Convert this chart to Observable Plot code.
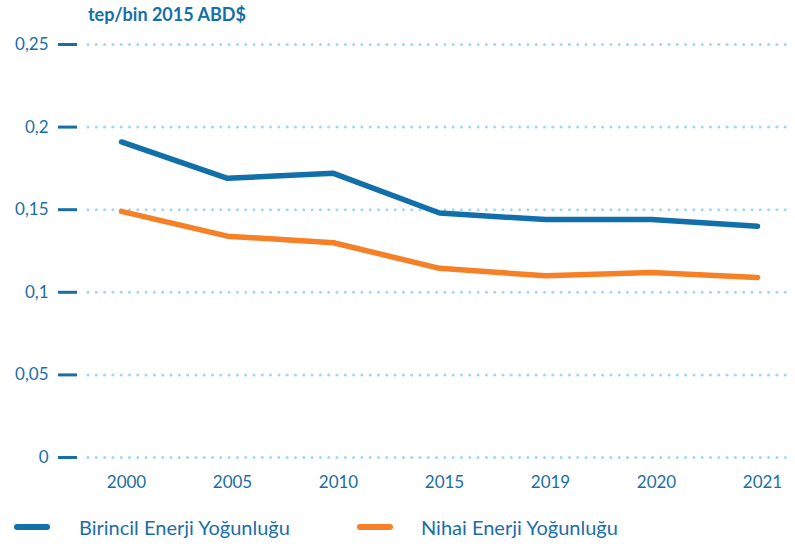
<!DOCTYPE html>
<html>
<head>
<meta charset="utf-8">
<script src="https://cdn.jsdelivr.net/npm/d3@7"></script>
<script src="https://cdn.jsdelivr.net/npm/@observablehq/plot@0.6"></script>
<style>
  body { margin: 0; background: #fff; font-family: Lato, "Open Sans", sans-serif; }
  #wrap { position: relative; width: 795px; height: 550px; }
  #title { position: absolute; left: 88px; top: 3px; font-size: 18px; font-weight: 700; color: #1570a6; }
  .leg { position: absolute; top: 515px; font-size: 20px; color: #1a6ea8; display: flex; align-items: center; }
  .sw { display: inline-block; width: 36px; height: 6px; border-radius: 3px; }
  #chart { position: absolute; left: 0; top: 0; }
</style>
</head>
<body>
<div id="wrap">
  <div id="chart"></div>
  <div id="title">tep/bin 2015 ABD$</div>
  <div class="leg" style="left:14px"><span class="sw" style="background:#1170aa"></span><span style="margin-left:29px">Birincil Enerji Yoğunluğu</span></div>
  <div class="leg" style="left:357px"><span class="sw" style="background:#f58025"></span><span style="margin-left:28px">Nihai Enerji Yoğunluğu</span></div>
</div>
<script>
const years = ["2000", "2005", "2010", "2015", "2019", "2020", "2021"];
const birincil = [0.191, 0.169, 0.172, 0.148, 0.144, 0.144, 0.140];
const nihai = [0.149, 0.134, 0.130, 0.1145, 0.110, 0.112, 0.109];
const yTicks = [0, 0.05, 0.1, 0.15, 0.2, 0.25];
const seriesNames = ["Birincil Enerji Yoğunluğu", "Nihai Enerji Yoğunluğu"];
const colors = ["#1170aa", "#f58025"];

const data = [
  ...years.map((y, i) => ({year: y, value: birincil[i], series: seriesNames[0]})),
  ...years.map((y, i) => ({year: y, value: nihai[i], series: seriesNames[1]}))
];

const textColor = "#1a6ea8";
const fmt = d => String(d).replace(".", ",");

const chart = Plot.plot({
  width: 795,
  height: 500,
  marginTop: 44,
  marginBottom: 43,
  marginLeft: 88,
  marginRight: 5,
  style: { fontFamily: "Lato, 'Open Sans', sans-serif", fontSize: "17px", color: textColor, background: "transparent" },
  x: { type: "point", domain: years, padding: 0, insetLeft: 30, insetRight: 31 },
  y: { domain: [0, 0.25] },
  color: { domain: seriesNames, range: colors },
  marks: [
    Plot.ruleY(yTicks, { stroke: "#9fd8f0", strokeWidth: 3, strokeDasharray: "0 8.3", strokeLinecap: "round", strokeOpacity: 1 }),
    Plot.axisY({ ticks: yTicks, tickFormat: fmt, tickSize: 19, tickPadding: 10, dx: -11, stroke: textColor, strokeWidth: 3, strokeOpacity: 1, fill: textColor, label: null, fontSize: 17 }),
    Plot.axisX({ tickSize: 0, tickPadding: 18, dx: 5, fill: textColor, label: null, fontSize: 17 }),
    Plot.line(data, { x: "year", y: "value", z: "series", stroke: "series", strokeWidth: 5.5, strokeLinecap: "round", strokeLinejoin: "round" })
  ]
});
document.getElementById("chart").appendChild(chart);
</script>
</body>
</html>
